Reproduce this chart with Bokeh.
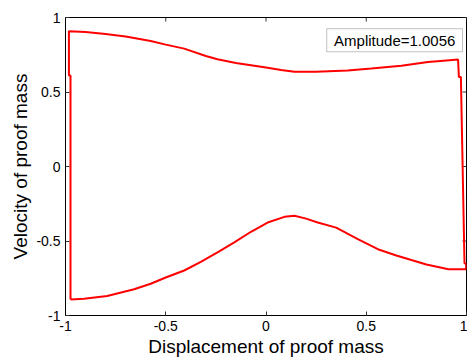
import math
from bokeh.plotting import figure
from bokeh.models import Range1d, FixedTicker, Label, BoxAnnotation
from bokeh.embed import file_html
from bokeh.resources import INLINE

# Phase-plane loop (clockwise): left edge, top curve, right edge, bottom curve
disp = [-0.975, -0.975, -0.983, -0.983,
        -0.9, -0.8, -0.7, -0.575, -0.5, -0.408, -0.3, -0.242, -0.15, -0.075, 0.0,
        0.075, 0.142, 0.25, 0.408, 0.525, 0.675, 0.808, 0.9, 0.958,
        0.962, 0.972, 0.99, 0.998, 0.998,
        0.91, 0.8, 0.725, 0.65, 0.558, 0.458, 0.35, 0.258, 0.2, 0.142, 0.092, 0.008,
        -0.075, -0.158, -0.242, -0.325, -0.408, -0.5, -0.575, -0.658, -0.792, -0.908, -0.975]
vel = [-0.893, 0.61, 0.61, 0.907,
       0.903, 0.89, 0.872, 0.842, 0.818, 0.791, 0.742, 0.72, 0.695, 0.68, 0.665,
       0.648, 0.636, 0.636, 0.645, 0.658, 0.676, 0.702, 0.712, 0.718,
       0.6, 0.6, -0.65, -0.653, -0.69,
       -0.69, -0.658, -0.628, -0.597, -0.555, -0.487, -0.41, -0.376, -0.35, -0.331, -0.338, -0.376,
       -0.438, -0.509, -0.576, -0.64, -0.698, -0.745, -0.787, -0.824, -0.869, -0.887, -0.893]

ticks = [-1, -0.5, 0, 0.5, 1]
tick_labels = ["-1", "-0.5", "0", "0.5", "1"]
legend_text = "Amplitude=1.0056"
x_title = "Displacement of proof mass"
y_title = "Velocity of proof mass"

FONT = "Liberation Sans"

p = figure(width=467, height=359, output_backend="svg", toolbar_location=None,
           x_range=Range1d(-1, 1), y_range=Range1d(-1, 1),
           min_border_left=65, min_border_right=1, min_border_top=17, min_border_bottom=42,
           x_axis_label=x_title, y_axis_label=y_title)
p.background_fill_color = "white"
p.border_fill_color = "white"
p.outline_line_color = "black"
p.outline_line_width = 1
p.grid.visible = False

overrides = {t: s for t, s in zip(ticks, tick_labels)}
for ax in (p.xaxis[0], p.yaxis[0]):
    ax.ticker = FixedTicker(ticks=ticks)
    ax.major_label_overrides = overrides
    ax.major_tick_in = 4
    ax.major_tick_out = 0
    ax.minor_tick_line_color = None
    ax.axis_line_color = "black"
    ax.major_tick_line_color = "#333333"
    ax.major_label_text_font = FONT
    ax.major_label_text_font_size = "14px"
    ax.major_label_text_color = "black"
    ax.major_label_standoff = 5
    ax.axis_label_text_font = FONT
    ax.axis_label_text_font_size = "19px"
    ax.axis_label_text_font_style = "normal"
    ax.axis_label_text_color = "black"
    ax.axis_label_standoff = 2

# mirrored inward ticks on the top and right edges of the box
p.ray(x=ticks, y=[1] * len(ticks), length=4, length_units="screen",
      angle=-math.pi / 2, line_color="#333333", line_width=1)
p.ray(x=[1] * len(ticks), y=ticks, length=4, length_units="screen",
      angle=math.pi, line_color="#333333", line_width=1)

p.line(disp, vel, line_color="red", line_width=2)

box = BoxAnnotation(left=0.303, right=0.98, top=0.925, bottom=0.77,
                    fill_color="white", fill_alpha=1.0, line_color="#333333", line_width=1)
p.add_layout(box)
p.add_layout(Label(x=0.642, y=0.847, text=legend_text, text_align="center",
                   text_baseline="middle", text_font=FONT, text_font_size="15px",
                   text_color="black"))

open("out.html", "w").write(file_html(p, INLINE))
